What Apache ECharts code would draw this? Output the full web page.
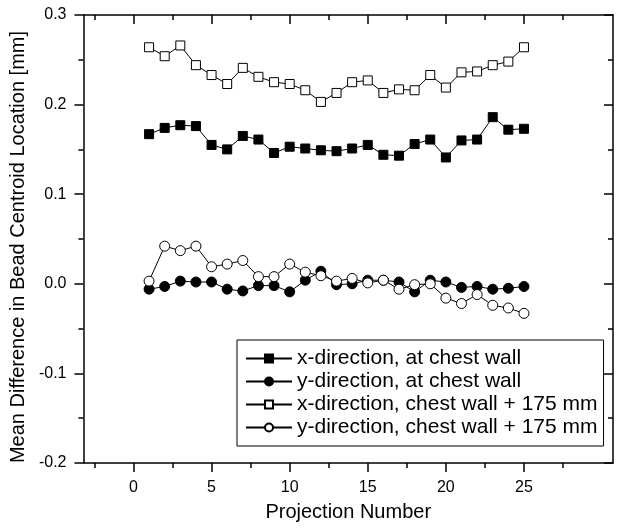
<!DOCTYPE html>
<html><head><meta charset="utf-8">
<script src="https://cdn.jsdelivr.net/npm/echarts@6/dist/echarts.min.js"></script>
<style>html,body{margin:0;padding:0;background:#fff}#c{width:636px;height:532px}</style>
</head><body><div id="c"></div>
<script>
const projections = [1,2,3,4,5,6,7,8,9,10,11,12,13,14,15,16,17,18,19,20,21,22,23,24,25];
const xChestWall = [0.167,0.174,0.177,0.176,0.155,0.150,0.165,0.161,0.146,0.153,0.151,0.149,0.148,0.151,0.155,0.144,0.143,0.156,0.161,0.141,0.160,0.161,0.186,0.172,0.173];
const yChestWall = [-0.006,-0.003,0.003,0.002,0.002,-0.006,-0.008,-0.002,-0.002,-0.009,0.004,0.014,-0.001,0.000,0.004,0.004,0.002,-0.009,0.004,0.002,-0.004,-0.003,-0.006,-0.005,-0.003];
const xChestWall175 = [0.264,0.254,0.266,0.244,0.233,0.223,0.241,0.231,0.225,0.223,0.216,0.203,0.213,0.225,0.227,0.213,0.217,0.216,0.233,0.219,0.236,0.237,0.244,0.248,0.264];
const yChestWall175 = [0.003,0.042,0.037,0.042,0.019,0.022,0.026,0.008,0.008,0.022,0.013,0.009,0.003,0.006,0.001,0.004,-0.006,-0.001,0.000,-0.016,-0.022,-0.012,-0.024,-0.027,-0.033];
const seriesNames = ['x-direction, at chest wall','y-direction, at chest wall','x-direction, chest wall + 175 mm','y-direction, chest wall + 175 mm'];
const xMajorTicks = [0,5,10,15,20,25];
const xMinorTicks = [-2.5,2.5,7.5,12.5,17.5,22.5,27.5];
const yRange = [-0.2, 0.3];
const xRange = [-3.2, 30.7];

const FONT = '"Liberation Sans", Arial, Helvetica, sans-serif';
const black = '#000';
const chart = echarts.init(document.getElementById('c'), null, {renderer:'canvas'});
const pair = arr => projections.map((p,i)=>[p, arr[i]]);

function xAx(pos, ticks, len, inside, showLine, extra){
  return Object.assign({
    type:'value', position:pos, min:xRange[0], max:xRange[1],
    axisLine:{show:showLine, onZero:false, lineStyle:{color:black,width:1.5}},
    axisTick:{show:true, inside:inside, length:len, customValues:ticks, lineStyle:{color:black,width:1.5}},
    axisLabel:{show:false},
    splitLine:{show:false}
  }, extra||{});
}
function yAx(pos, inside, extra){
  return Object.assign({
    type:'value', position:pos, min:yRange[0], max:yRange[1], interval:0.1,
    axisLine:{show:true, onZero:false, lineStyle:{color:black,width:1.5}},
    axisTick:{show:true, inside:inside, length:9, lineStyle:{color:black,width:1.5}},
    minorTick:{show:true, splitNumber:2, length:5, lineStyle:{color:black,width:1.5}},
    axisLabel:{show:false},
    splitLine:{show:false}
  }, extra||{});
}

const symbolDefs = [
  {symbol:'rect', size:9, fill:black},
  {symbol:'circle', size:10, fill:black},
  {symbol:'rect', size:9, fill:'#fff'},
  {symbol:'circle', size:10, fill:'#fff'}
];
const datasets = [xChestWall, yChestWall, xChestWall175, yChestWall175];

chart.setOption({
  animation:false,
  backgroundColor:'#fff',
  textStyle:{fontFamily:FONT},
  grid:{left:72, right:23, top:15, bottom:69},
  xAxis:[
    xAx('bottom', xMajorTicks, 9, false, true, {
      axisLabel:{show:true, customValues:xMajorTicks, fontSize:16, color:black, margin:17, fontFamily:FONT},
      name:'Projection Number', nameLocation:'middle', nameGap:39,
      nameTextStyle:{fontSize:20, color:black, fontFamily:FONT}
    }),
    xAx('bottom', xMinorTicks, 5, false, false),
    xAx('top', xMajorTicks, 9, true, true),
    xAx('top', xMinorTicks, 5, true, false)
  ],
  yAxis:[
    yAx('left', false, {
      axisLabel:{show:true, fontSize:16, color:black, margin:17, fontFamily:FONT, formatter:v=>(+v).toFixed(1)},
      name:'Mean Difference in Bead Centroid Location [mm]', nameLocation:'middle', nameGap:45,
      nameTextStyle:{fontSize:20, color:black, fontFamily:FONT, padding:[0,16,0,0]}
    }),
    yAx('right', true)
  ],
  legend:{
    orient:'vertical', left:237, top:340,
    backgroundColor:'#fff', borderColor:black, borderWidth:1, borderRadius:0,
    padding:[8,6,8,8], itemWidth:46, itemHeight:10, itemGap:2,
    textStyle:{fontSize:21, color:black, fontFamily:FONT},
    data:seriesNames
  },
  series: datasets.map((d,i)=>({
    name:seriesNames[i], type:'line', data:pair(d),
    symbol:symbolDefs[i].symbol, symbolSize:symbolDefs[i].size,
    showAllSymbol:true,
    lineStyle:{color:black, width:1},
    itemStyle:{color:symbolDefs[i].fill, borderColor:black, borderWidth:1},
    emphasis:{disabled:true}
  }))
});
</script></body></html>
